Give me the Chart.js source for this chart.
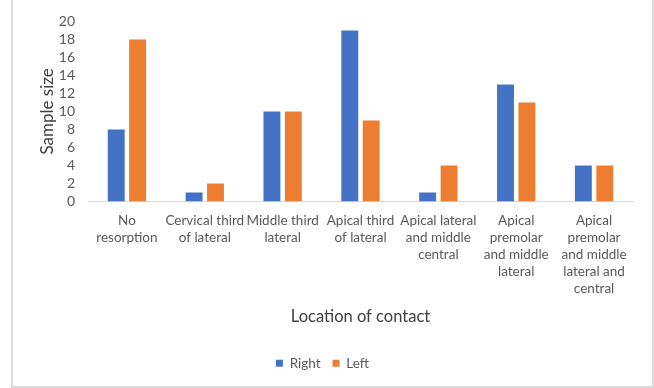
<!DOCTYPE html>
<html>
<head>
<meta charset="utf-8">
<script src="https://cdn.jsdelivr.net/npm/chart.js@4"></script>
<style>
  html, body { margin: 0; padding: 0; background: #fff; }
  #wrap { position: relative; width: 654px; height: 388px; overflow: hidden; }
  #frame { position: absolute; left: 11px; top: -4px; width: 643px; height: 392px; border: 2px solid #dcdcdc; box-sizing: border-box; pointer-events: none; }
  canvas { position: absolute; left: 0; top: 0; }
</style>
</head>
<body>
<div id="wrap">
  <canvas id="chart" width="654" height="388"></canvas>
  <div id="frame"></div>
</div>
<script>
// Location of root contact, split by side
const categories = [
  ["No", "resorption"],
  ["Cervical third", "of lateral"],
  ["Middle third", "lateral"],
  ["Apical third", "of lateral"],
  ["Apical lateral", "and middle", "central"],
  ["Apical", "premolar", "and middle", "lateral"],
  ["Apical", "premolar", "and middle", "lateral and", "central"]
];
const rightValues = [8, 1, 10, 19, 1, 13, 4];
const leftValues = [18, 2, 10, 9, 4, 11, 4];
const yTicks = [0, 2, 4, 6, 8, 10, 12, 14, 16, 18, 20];

const FONT = "Lato, 'Open Sans', sans-serif";
const TICK_COLOR = "#595959";

new Chart(document.getElementById("chart"), {
  type: "bar",
  data: {
    labels: categories,
    datasets: [
      { label: "Right", data: rightValues, backgroundColor: "#4472C4" },
      { label: "Left", data: leftValues, backgroundColor: "#ED7D31" }
    ]
  },
  options: {
    responsive: false,
    animation: false,
    layout: { padding: { left: 12, right: 21, top: 21, bottom: 8 } },
    datasets: { bar: { categoryPercentage: 0.55, barPercentage: 0.79 } },
    plugins: {
      tooltip: { enabled: false },
      legend: {
        position: "bottom",
        labels: {
          boxWidth: 7, boxHeight: 7, padding: 12,
          color: TICK_COLOR,
          font: { family: FONT, size: 13.5 }
        }
      }
    },
    scales: {
      x: {
        grid: { display: false, drawTicks: false },
        border: { display: true, color: "#d9d9d9", width: 1 },
        ticks: {
          color: TICK_COLOR, padding: 11, autoSkip: false, maxRotation: 0,
          font: { family: FONT, size: 13.5, lineHeight: 1.26 }
        },
        title: {
          display: true, text: "Location of contact", color: "#404040",
          font: { family: FONT, size: 16.5 }, padding: { top: 0, bottom: 18 }
        },
        afterFit: s => { s.height = 143; }
      },
      y: {
        min: 0, max: 20,
        afterBuildTicks: s => { s.ticks = yTicks.map(v => ({ value: v })); },
        grid: { display: false, drawTicks: false },
        border: { display: false },
        ticks: { color: TICK_COLOR, padding: 13, autoSkip: false, font: { family: FONT, size: 14 } },
        title: {
          display: true, text: "Sample size", color: "#404040",
          font: { family: FONT, size: 17 }, padding: { top: 25, bottom: 0 }
        },
        afterFit: s => { s.width = 76; }
      }
    }
  }
});
</script>
</body>
</html>
